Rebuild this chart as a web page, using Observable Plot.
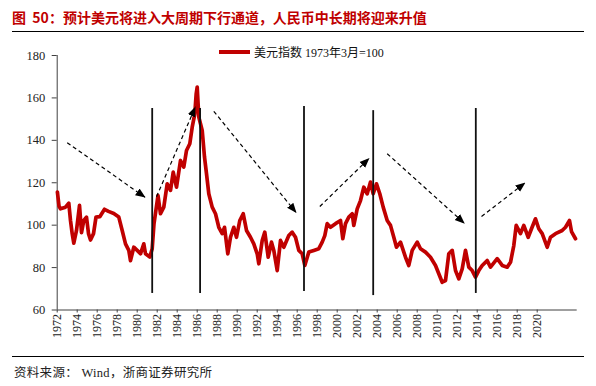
<!DOCTYPE html>
<html>
<head>
<meta charset="utf-8">
<script src="https://cdn.jsdelivr.net/npm/d3@7"></script>
<script src="https://cdn.jsdelivr.net/npm/@observablehq/plot@0.6"></script>
<style>
  html, body { margin: 0; padding: 0; background: #fff; }
  #wrap { position: relative; width: 596px; height: 386px; background: #fff; overflow: hidden; }
  #title { position: absolute; left: 12px; top: 7px; font: bold 14px "Noto Sans CJK SC", sans-serif; letter-spacing: 0px; color: #C00000; white-space: pre; }
  #rule1 { position: absolute; left: 12px; top: 30.5px; width: 572px; border-top: 1.5px solid #000; }
  #chart { position: absolute; left: 0; top: 38px; }
  #legend { position: absolute; left: 219px; top: 43px; font: 12px "Liberation Serif", "Noto Sans CJK SC", serif; color: #111; white-space: nowrap; display: flex; align-items: center; }
  #legend .sw { display: inline-block; width: 31px; height: 3.5px; background: #C00000; margin-right: 4px; }
  #rule2 { position: absolute; left: 12px; top: 356px; width: 572px; border-top: 1px solid #000; }
  #source { position: absolute; left: 14px; top: 362px; font: 12.5px "Liberation Serif", "Noto Sans CJK SC", serif; letter-spacing: 0.3px; color: #222; white-space: pre; }
</style>
</head>
<body>
<div id="wrap">
  <div id="title">图  50：预计美元将进入大周期下行通道，人民币中长期将迎来升值</div>
  <div id="rule1"></div>
  <div id="chart"></div>
  <div id="legend"><span class="sw"></span><span>美元指数 1973年3月=100</span></div>
  <div id="rule2"></div>
  <div id="source">资料来源： Wind，浙商证券研究所</div>
</div>
<script>
// Time positions read in the chart's own axis units
const dates = [1972.02,1972.18,1972.33,1972.83,1973.16,1973.33,1973.5,1973.66,1973.93,1974.23,1974.43,1974.66,1974.93,1975.13,1975.33,1975.63,1975.88,1976.26,1976.73,1977.13,1977.66,1978.16,1978.5,1978.83,1979.16,1979.33,1979.66,1980.0,1980.33,1980.66,1980.83,1981.26,1981.5,1981.68,1982.08,1982.33,1982.66,1983.0,1983.33,1983.6,1983.93,1984.33,1984.66,1984.93,1985.26,1985.5,1985.76,1985.9,1986.0,1986.16,1986.33,1986.5,1986.73,1986.93,1987.16,1987.5,1987.83,1988.16,1988.5,1988.73,1989.06,1989.33,1989.66,1989.93,1990.26,1990.6,1990.93,1991.33,1991.66,1992.0,1992.16,1992.5,1992.76,1993.1,1993.43,1993.66,1994.0,1994.33,1994.66,1995.16,1995.5,1995.83,1996.16,1996.5,1996.76,1997.16,1997.66,1998.16,1998.5,1998.76,1999.0,1999.33,1999.83,2000.33,2000.56,2000.83,2001.16,2001.5,2001.66,2002.0,2002.33,2002.66,2003.0,2003.33,2003.6,2003.93,2004.26,2004.6,2005.0,2005.33,2005.66,2005.93,2006.33,2006.83,2007.16,2007.5,2008.0,2008.33,2008.83,2009.33,2009.83,2010.16,2010.5,2010.83,2011.16,2011.5,2011.83,2012.16,2012.5,2012.83,2013.16,2013.5,2013.83,2014.16,2014.5,2015.0,2015.33,2016.0,2016.5,2017.0,2017.33,2017.66,2017.9,2018.33,2018.66,2019.1,2019.43,2019.83,2020.16,2020.5,2021.0,2021.33,2021.83,2022.5,2022.83,2023.23,2023.43,2023.83];
const dxy = [115.6,109,107.7,108.5,110.4,102.2,96,91.5,97.5,109.3,96.5,102.2,103.8,96,93,96,103.8,104,107.5,106.5,105.5,103.8,97.5,91.2,88.1,83.3,89.6,88.1,86.5,91.2,86.5,85,88.9,100.7,114,105.4,108.5,119.5,116.4,125,117.9,130.5,127.4,135.2,138.4,146.2,152.5,162,165.1,151,147.8,144.7,132.1,124.2,114.8,108.5,105.4,99,96,99,86.5,94.3,99,94.3,102.2,105.4,97.5,94.3,91.2,86.5,81.8,92.8,96.7,84.9,92,88.1,78.6,92.8,89.6,95.1,96.7,94.3,88.1,86.5,81,87.3,88.1,88.9,92,95.1,100.7,99,100.7,102.2,93.6,100.7,103.8,105.4,99.9,107.7,111.6,117.9,114.8,120.3,114.8,119.5,114.8,108.5,102.2,99.9,94.3,89.6,92,84.9,81,88.1,92,88.9,87.3,84.9,81,77.1,73.1,73.9,86.5,88.1,78.6,74.7,79.4,88.1,80.2,78.6,75.5,78.6,81,83.3,80.2,84.2,81,80.2,82.5,90.4,99.9,96,99.9,94.3,98.3,103,98.3,96,89.6,94.3,96,97.5,99,102.2,97,93.6];

// Cycle boundary lines
const cycleX = [1981.5, 1986.29, 1996.68, 2003.6, 2013.86];
const cycleTop = [155, 155, 156, 154, 155];
const cycleBottom = [67.8, 67.8, 68.7, 66.8, 67.8];

// Trend arrows
const arrowX1 = [1973.0, 1981.93, 1987.66, 1998.26, 2005.0, 2014.43];
const arrowY1 = [138.9, 113.4, 153.7, 108.8, 133.7, 104.1];
const arrowX2 = [1980.83, 1985.83, 1995.93, 2003.23, 2012.76, 2018.83];
const arrowY2 = [113.0, 155.9, 105.7, 131.7, 100.7, 120.1];

const xTicks = d3.range(1972, 2021, 2);
const yTicks = [60, 80, 100, 120, 140, 160, 180];

const series = dates.map((d, i) => ({x: d, y: dxy[i]}));
const cycles = cycleX.map((x, i) => ({x, y1: cycleBottom[i], y2: cycleTop[i]}));
const arrows = arrowX1.map((x1, i) => ({x1, y1: arrowY1[i], x2: arrowX2[i], y2: arrowY2[i]}));

function arrowHead(color) {
  const ns = "http://www.w3.org/2000/svg";
  const m = document.createElementNS(ns, "marker");
  m.setAttribute("viewBox", "0 -5 10 10");
  m.setAttribute("refX", "10");
  m.setAttribute("refY", "0");
  m.setAttribute("markerWidth", "10");
  m.setAttribute("markerHeight", "10");
  m.setAttribute("markerUnits", "userSpaceOnUse");
  m.setAttribute("orient", "auto");
  const p = document.createElementNS(ns, "path");
  p.setAttribute("d", "M0,-4L10,0L0,4Z");
  p.setAttribute("fill", "#000");
  p.setAttribute("stroke", "none");
  p.setAttribute("stroke-dasharray", "none");
  m.appendChild(p);
  return m;
}

const chart = Plot.plot({
  width: 596,
  height: 305,
  marginLeft: 56.7,
  marginRight: 19.3,
  marginTop: 17,
  marginBottom: 33.5,
  style: {fontFamily: "'Liberation Serif', serif", fontSize: "12.5px", color: "#222", background: "transparent", overflow: "visible"},
  x: {domain: [1972, 2024], label: null},
  y: {domain: [60, 180], label: null},
  marks: [
    Plot.axisX({ticks: xTicks, tickFormat: d => String(d), tickRotate: -90, tickSize: 3, tickPadding: 1, label: null, stroke: "#404040", fontSize: 12}),
    Plot.axisY({ticks: yTicks, tickSize: 5, tickPadding: 7, label: null, stroke: "#404040"}),
    Plot.ruleY([60], {stroke: "#404040", strokeWidth: 1}),
    Plot.ruleX([1972], {stroke: "#404040", strokeWidth: 1}),
    Plot.line(series, {x: "x", y: "y", stroke: "#C00000", strokeWidth: 3.7, strokeLinejoin: "round"}),
    Plot.ruleX(cycles, {x: "x", y1: "y1", y2: "y2", stroke: "#111", strokeWidth: 1.8}),
    Plot.link(arrows, {x1: "x1", y1: "y1", x2: "x2", y2: "y2", stroke: "#000", strokeWidth: 1.2, strokeDasharray: "4,3", markerEnd: arrowHead})
  ]
});
document.getElementById("chart").appendChild(chart);
</script>
</body>
</html>
